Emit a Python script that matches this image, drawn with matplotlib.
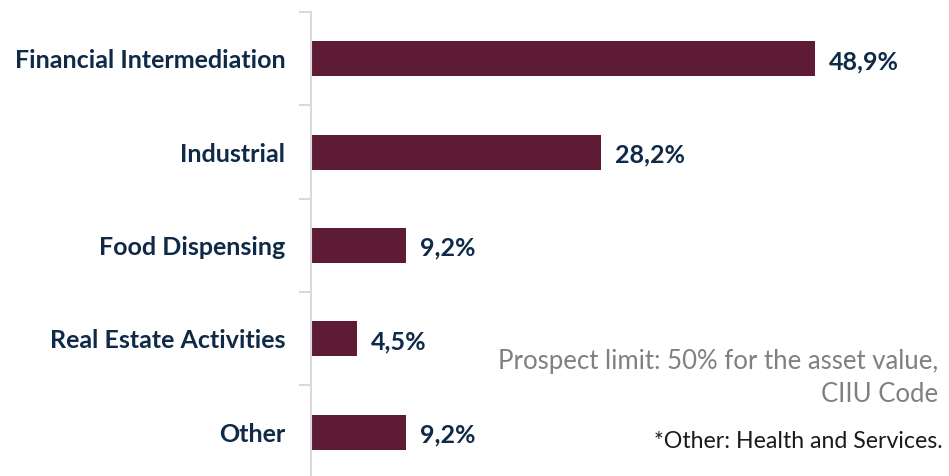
import matplotlib
matplotlib.use("Agg")
import matplotlib.pyplot as plt

categories = ["Financial Intermediation", "Industrial", "Food Dispensing",
              "Real Estate Activities", "Other"]
shares = [48.9, 28.2, 9.2, 4.5, 9.2]
value_labels = ["48,9%", "28,2%", "9,2%", "4,5%", "9,2%"]

bar_color = "#5e1b36"
text_color = "#0e2a47"

plt.rcParams["font.family"] = ["Lato", "DejaVu Sans"]

fig = plt.figure(figsize=(9.49, 4.76), dpi=100)
# axes placed so the spine sits at x=311px, top at 12px
ax = fig.add_axes([311 / 949, -2.7 / 476, 618 / 949, 466.7 / 476])

ypos = list(range(len(categories)))
ax.barh(ypos, shares, height=0.375, color=bar_color)
ax.set_ylim(len(categories) - 0.5, -0.5)
ax.set_xlim(0, 60)

ax.set_yticks(ypos)
ax.set_yticklabels(categories, fontsize=18, fontweight="bold", color=text_color)
ax.set_yticks([i - 0.5 for i in range(len(categories) + 1)], minor=True)
ax.tick_params(axis="y", which="major", length=0, pad=18.5)
ax.tick_params(axis="y", which="minor", length=9, width=1.5, color="#d9d9d9")
ax.set_xticks([])

for s in ["top", "right", "bottom"]:
    ax.spines[s].set_visible(False)
ax.spines["left"].set_color("#d9d9d9")
ax.spines["left"].set_linewidth(1.5)

for y, v, lab in zip(ypos, shares, value_labels):
    ax.text(v + 1.35, y + 0.03, lab, va="center", ha="left", fontsize=18,
            fontweight="bold", color=text_color)

fig.text(938 / 949, 1 - 378 / 476, "Prospect limit: 50% for the asset value,\nCIIU Code",
         ha="right", va="center", fontsize=18.5, color="#808080", linespacing=1.4)
fig.text(943 / 949, 1 - 441 / 476, "*Other: Health and Services.",
         ha="right", va="center", fontsize=16.7, color="#1a1a1a")

fig.savefig("out.png", dpi=100)
